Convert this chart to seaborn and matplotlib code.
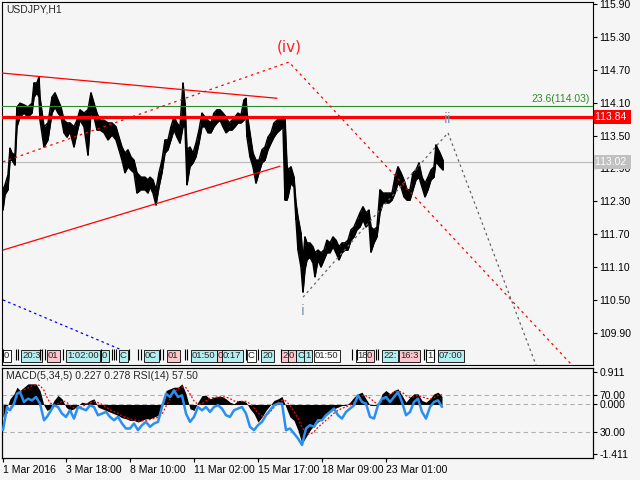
import numpy as np
import matplotlib
matplotlib.use('Agg')
import matplotlib.pyplot as plt
import matplotlib.transforms as mtransforms
import seaborn as sns

# USDJPY H1, bar index = hours since 1 Mar 2016 00:00 (weekends removed)
bar = [0, 2, 5, 7, 9, 12, 14, 17, 21, 25,
       29, 31, 34, 36, 37, 41, 45, 49, 52, 55,
       58, 61, 64, 67, 71, 74, 77, 81, 85, 88,
       91, 94, 97, 101, 105, 109, 113, 116, 119, 122,
       125, 128, 131, 134, 138, 142, 145, 147, 150, 153,
       156, 159, 162, 165, 168, 171, 174, 177, 180, 182,
       184, 187, 190, 193, 196, 199, 202, 205, 208, 211,
       214, 217, 220, 223, 226, 229, 232, 235, 238, 241,
       243, 244, 247, 250, 253, 256, 259, 262, 265, 268,
       271, 274, 277, 280, 282, 284, 285, 288, 291, 293,
       295, 298, 300, 302, 304, 307, 310, 312, 315, 318,
       321, 324, 327, 330, 333, 336, 339, 342, 345, 348,
       351, 354, 357, 360, 363, 366, 368, 371, 374, 377,
       380, 383, 386, 389, 392, 395, 398, 401, 404, 407,
       410, 413, 416, 419, 422, 425, 428, 431, 433, 434,
       437, 440]
high = [112.51, 112.60, 112.78, 113.27, 113.18, 113.14, 114.02, 114.09, 114.06, 114.02,
        114.09, 114.46, 114.46, 114.57, 114.20, 113.66, 113.73, 114.20, 114.28, 114.15,
        114.02, 113.78, 113.73, 113.73, 113.66, 113.78, 113.97, 113.91, 113.97, 114.28,
        114.09, 113.91, 113.78, 113.78, 113.73, 113.73, 113.66, 113.47, 113.29, 113.18,
        113.24, 113.11, 113.05, 112.82, 112.74, 112.74, 112.69, 112.74, 112.69, 112.51,
        112.82, 113.05, 113.42, 113.42, 113.66, 113.84, 113.73, 113.66, 114.46, 114.09,
        113.24, 113.29, 113.18, 113.36, 113.60, 113.91, 113.84, 113.78, 113.73, 113.91,
        113.97, 113.97, 113.91, 113.84, 113.73, 113.78, 113.84, 113.91, 113.87, 114.15,
        114.18, 113.91, 113.55, 113.18, 113.05, 113.05, 113.24, 113.29, 113.47, 113.55,
        113.73, 113.78, 113.84, 113.84, 113.82, 112.96, 112.87, 112.93, 112.74, 112.27,
        112.01, 111.72, 111.23, 111.65, 111.54, 111.54, 111.47, 111.36, 111.41, 111.36,
        111.41, 111.59, 111.54, 111.65, 111.59, 111.47, 111.54, 111.54, 111.59, 111.78,
        111.83, 111.96, 112.09, 112.20, 112.09, 112.14, 111.83, 111.78, 111.83, 112.51,
        112.45, 112.45, 112.45, 112.45, 112.74, 112.93, 112.82, 112.69, 112.51, 112.51,
        112.82, 112.87, 113.00, 112.74, 112.63, 112.74, 112.87, 112.93, 113.33, 113.29,
        113.18, 113.05]
low = [112.14, 112.42, 112.51, 113.05, 113.05, 112.96, 113.66, 113.84, 113.91, 113.84,
       113.91, 114.20, 114.28, 114.20, 113.78, 113.29, 113.42, 113.91, 114.02, 113.91,
       113.84, 113.55, 113.47, 113.57, 113.29, 113.55, 113.78, 113.66, 113.14, 113.91,
       113.84, 113.60, 113.60, 113.55, 113.42, 113.51, 113.42, 113.24, 113.05, 112.82,
       112.93, 112.87, 112.82, 112.45, 112.51, 112.51, 112.45, 112.56, 112.45, 112.23,
       112.56, 112.82, 113.18, 113.24, 113.42, 113.60, 113.47, 113.36, 113.66, 113.66,
       112.60, 112.93, 113.00, 113.11, 113.36, 113.66, 113.66, 113.55, 113.55, 113.66,
       113.73, 113.78, 113.66, 113.55, 113.60, 113.60, 113.66, 113.73, 113.73, 113.78,
       113.87, 113.47, 113.11, 112.93, 112.63, 112.82, 113.00, 113.05, 113.24, 113.36,
       113.47, 113.55, 113.60, 113.66, 112.32, 112.32, 112.38, 112.63, 112.56, 111.96,
       111.41, 111.10, 110.64, 111.05, 111.23, 111.28, 111.17, 110.92, 111.23, 111.10,
       111.23, 111.36, 111.36, 111.47, 111.36, 111.23, 111.36, 111.41, 111.41, 111.59,
       111.65, 111.78, 111.83, 111.96, 111.83, 111.90, 111.37, 111.54, 111.65, 112.09,
       112.27, 112.27, 112.27, 112.32, 112.45, 112.63, 112.56, 112.38, 112.32, 112.32,
       112.51, 112.69, 112.74, 112.56, 112.38, 112.51, 112.69, 112.74, 113.05, 113.00,
       112.93, 112.87]

# indicator window: MACD(5,34,5) + RSI(14)
ind_bar = [0, 4, 7, 11, 14, 17, 21, 25, 29, 33, 37, 41, 44, 47] + list(range(51, 440, 4))
macd = [-0.360, -0.076, 0.161, 0.303, 0.492, 0.398, 0.492, 0.587, 0.587, 0.587,
        0.398, -0.028, -0.170, -0.123, 0.114, 0.256, 0.161, -0.076, -0.170, -0.123,
        -0.028, 0.066, 0.038, 0.114, 0.161, -0.076, -0.123, -0.170, -0.218, -0.265,
        -0.313, -0.379, -0.407, -0.455, -0.455, -0.502, -0.455, -0.407, -0.407, -0.360,
        -0.313, -0.076, 0.398, 0.445, 0.492, 0.492, 0.587, 0.303, -0.123, -0.170,
        0.066, 0.256, 0.256, 0.161, 0.208, 0.227, 0.227, 0.161, 0.066, 0.019,
        0.114, 0.114, 0.066, -0.123, -0.265, -0.502, -0.360, -0.170, -0.028, 0.114,
        0.161, 0.227, -0.076, -0.360, -0.455, -0.739, -1.117, -0.928, -0.739, -0.597,
        -0.502, -0.407, -0.313, -0.218, -0.123, -0.076, -0.028, -0.028, 0.066, 0.208,
        0.303, 0.350, 0.161, -0.028, -0.028, -0.028, 0.303, 0.398, 0.303, 0.398,
        0.445, 0.256, 0.066, 0.208, 0.303, 0.303, 0.114, 0.066, 0.161, 0.303,
        0.350, 0.227]
signal = [-0.30, -0.25, -0.10, 0.05, 0.20, 0.35, 0.42, 0.47, 0.53, 0.56,
          0.54, 0.40, 0.20, 0.05, -0.02, 0.02, 0.10, 0.08, -0.02, -0.10,
          -0.10, -0.06, 0.00, 0.05, 0.09, 0.05, 0.00, -0.07, -0.15, -0.20,
          -0.25, -0.32, -0.37, -0.41, -0.44, -0.47, -0.47, -0.45, -0.43, -0.40,
          -0.37, -0.28, -0.05, 0.15, 0.35, 0.45, 0.50, 0.48, 0.30, 0.10,
          0.00, 0.02, 0.10, 0.18, 0.20, 0.22, 0.22, 0.21, 0.17, 0.10,
          0.08, 0.09, 0.09, 0.02, -0.10, -0.25, -0.33, -0.32, -0.22, -0.08,
          0.05, 0.12, 0.10, -0.03, -0.20, -0.40, -0.65, -0.82, -0.85, -0.78,
          -0.65, -0.55, -0.45, -0.35, -0.25, -0.17, -0.11, -0.07, -0.02, 0.06,
          0.15, 0.25, 0.25, 0.18, 0.08, 0.00, 0.08, 0.20, 0.30, 0.35,
          0.38, 0.35, 0.25, 0.20, 0.22, 0.26, 0.22, 0.18, 0.15, 0.20,
          0.26, 0.278]
rsi = [32.2, 57.4, 53.8, 61.0, 71.8, 73.6, 62.8, 66.4, 64.6, 68.2,
       61.0, 43.0, 46.6, 52.0, 59.2, 57.4, 50.2, 46.6, 53.8, 44.8,
       57.4, 55.6, 53.8, 59.2, 57.4, 48.4, 50.2, 52.0, 46.6, 43.0,
       46.6, 39.4, 34.0, 34.0, 39.4, 32.2, 37.6, 41.2, 35.8, 39.4,
       41.2, 57.4, 71.8, 68.2, 75.4, 68.2, 70.0, 50.2, 41.2, 46.6,
       57.4, 53.8, 57.4, 52.0, 57.4, 59.2, 55.6, 48.4, 46.6, 53.8,
       55.6, 57.4, 50.2, 35.8, 32.2, 37.6, 41.2, 48.4, 53.8, 59.2,
       61.0, 61.0, 32.2, 34.0, 28.6, 23.2, 16.0, 34.0, 37.6, 35.8,
       43.0, 43.0, 48.4, 52.0, 55.6, 48.4, 44.8, 52.0, 55.6, 59.2,
       70.0, 62.8, 61.0, 46.6, 44.8, 59.2, 66.4, 68.2, 62.8, 68.2,
       73.6, 62.8, 48.4, 52.0, 62.8, 66.4, 52.0, 44.8, 57.4, 62.8,
       64.6, 57.5]

price_ticks = [115.90, 115.30, 114.70, 114.10, 113.50, 112.90, 112.30, 111.70, 111.10, 110.50, 109.90]
date_bars = [0, 63, 127, 191, 255, 319, 383]
date_labels = ['1 Mar 2016', '3 Mar 18:00', '8 Mar 10:00', '11 Mar 02:00',
               '15 Mar 17:00', '18 Mar 09:00', '23 Mar 01:00']

resistance = 113.84
fib_236 = 114.03
bid = 113.02

# drawn objects (bars, prices)
tri_upper_bar, tri_upper_px = [-1, 274], [114.64, 114.18]
tri_lower_bar, tri_lower_px = [0, 277], [111.41, 112.94]
wave4_bar, wave4_px = [0, 286, 569], [113.02, 114.84, 109.31]
wave2_bar, wave2_px = [300, 445, 533], [110.55, 113.55, 109.31]
blue_bar, blue_px = [0, 117], [110.50, 109.60]

# little time-label objects along the bottom of the price window
tag_bars = [1, 19, 45, 64, 99, 117, 142, 165, 189, 215, 220, 245, 259, 279, 286,
            294, 302, 312, 354, 364, 380, 397, 424, 436]
tag_text = ['0', '20:3', '01', '1:02:00', '0', 'C', '0C', '01', '01:50', '0', '0:17', 'C', '20',
            '2', '0', 'C', '1', '01:50', '18', '0', '22:', '16:3', '1', '07:00']
tag_kind = ['w', 'c', 'p', 'c', 'c', 'c', 'c', 'p', 'c', 'p', 'c', 'w', 'c',
            'p', 'p', 'c', 'c', 'w', 'w', 'p', 'c', 'p', 'w', 'c']
sep_bars = [0, 13, 15, 37, 39, 42, 60, 98, 109, 111, 113, 126, 135, 138, 157, 160,
            182, 184, 243, 255, 278, 349, 354, 373, 375, 421, 423, 431]

sns.set_theme(style="white")
plt.rcParams['font.family'] = ['Liberation Sans', 'DejaVu Sans']
BG = '#f5f5f5'
FS = 7.5

fig = plt.figure(figsize=(6.4, 4.8), dpi=100, facecolor=BG)
ax = fig.add_axes([2 / 640, 1 - 365 / 480, 591 / 640, 363 / 480], facecolor=BG)
axi = fig.add_axes([2 / 640, 1 - 458 / 480, 591 / 640, 90.5 / 480], facecolor=BG)
axr = axi.twinx()

# ---- price window ----
ax.axhline(bid, color='#bdbdbd', lw=0.9, zorder=1)
ax.fill_between(bar, low, high, color='black', lw=0, zorder=2)
ax.vlines(bar, low, high, color='black', lw=1.3, zorder=2)
sns.lineplot(x=bar, y=high, ax=ax, color='black', lw=1.1, estimator=None, zorder=2)
sns.lineplot(x=bar, y=low, ax=ax, color='black', lw=1.1, estimator=None, zorder=2)

ax.axhline(fib_236, color='#2e8b2e', lw=0.8, zorder=3)
ax.axhline(resistance, color='#ff0000', lw=2.3, zorder=3)
ax.plot(tri_upper_bar, tri_upper_px, color='#ff0000', lw=0.9, zorder=3)
ax.plot(tri_lower_bar, tri_lower_px, color='#ff0000', lw=0.9, zorder=3)
ax.plot(wave4_bar, wave4_px, color='#ff0000', lw=0.9, ls=(0, (2, 3)), zorder=3)
ax.plot(wave2_bar, wave2_px, color='#666666', lw=0.9, ls=(0, (2, 2.5)), zorder=3)
ax.plot(blue_bar, blue_px, color='#0000ff', lw=0.9, ls=(0, (2, 2.5)), zorder=3)

ax.text(wave4_bar[1], 114.98, '(iv)', color='#ff2020', fontsize=11, ha='center', va='bottom',
        family='DejaVu Sans')
ax.text(wave2_bar[1], 113.68, 'ii', color='#7493ad', fontsize=10, ha='center', va='bottom',
        family='DejaVu Sans')
ax.text(wave2_bar[0], 110.43, 'i', color='#7493ad', fontsize=10, ha='center', va='top',
        family='DejaVu Sans')
ax.text(587, fib_236 + 0.05, '23.6(114.03)', color='#2e8b2e', fontsize=FS, ha='right', va='bottom')
ax.text(0.0068, 0.978, 'USDJPY,H1', transform=ax.transAxes, fontsize=FS, va='center')

tag_colors = {'w': 'white', 'c': '#b4eef0', 'p': '#ffc4cc'}
for b, s, k in zip(tag_bars, tag_text, tag_kind):
    ax.text(b, 109.48, s, fontsize=6.8, ha='left', va='center', zorder=5,
            bbox=dict(facecolor=tag_colors[k], edgecolor='black', lw=0.6, pad=1.0))
ax.vlines(sep_bars, 109.40, 109.60, color='black', lw=0.8, zorder=5)

ax.set_xlim(-1, 590)
ax.set_ylim(109.312, 115.937)
ax.set_xticks([])
ax.yaxis.tick_right()
ax.set_yticks(price_ticks)
ax.set_yticklabels([f'{p:.2f}' for p in price_ticks])
ax.tick_params(axis='y', right=True, left=False, direction='out', length=3, width=0.8,
               labelsize=FS, pad=1.5, colors='black')
ax.set_xlabel('')
ax.set_ylabel('')

trans = mtransforms.blended_transform_factory(ax.transAxes, ax.transData)
ax.text(1.004, resistance, '113.84 ', transform=trans, color='white', fontsize=FS,
        ha='left', va='center', bbox=dict(facecolor='#ff0000', edgecolor='none', pad=1.3))
ax.text(1.004, bid, '113.02 ', transform=trans, color='white', fontsize=FS,
        ha='left', va='center', bbox=dict(facecolor='#c0c0c0', edgecolor='none', pad=1.3))

# ---- indicator window ----
m_lo, m_hi = -1.525, 1.053
r_lo, r_hi = 1.9, 100.3


def rsi_to_macd(v):
    return m_lo + (v - r_lo) / (r_hi - r_lo) * (m_hi - m_lo)


for lvl in (rsi_to_macd(70), 0.0, rsi_to_macd(30)):
    axi.axhline(lvl, color='#b0b0b0', lw=0.8, ls=(0, (4, 3)), zorder=1)
axi.fill_between(ind_bar, 0, macd, color='black', lw=0, zorder=2)
axi.plot(ind_bar, signal, color='#ff0000', lw=0.9, ls=(0, (1.5, 1.5)), zorder=3)
axi.set_xlim(-1, 590)
axi.set_ylim(m_lo, m_hi)
axi.set_yticks([0.911, 0.0, -1.411])
axi.set_yticklabels(['0.911', '0.000', '-1.411'])
axi.yaxis.tick_right()
axi.set_xticks(date_bars)
axi.set_xticklabels(date_labels, ha='left')
axi.tick_params(axis='y', right=True, left=False, labelleft=False, labelright=True,
                direction='out', length=3, width=0.8, labelsize=FS, pad=1.5, colors='black')
axi.tick_params(axis='x', bottom=True, direction='out', length=3, width=0.8,
                labelsize=FS, pad=2, colors='black')

sns.lineplot(x=ind_bar, y=rsi, ax=axr, color='#2a8ff0', lw=1.8, estimator=None, zorder=4)
axr.set_xlim(-1, 590)
axr.set_ylim(r_lo, r_hi)
axr.set_yticks([70, 30])
axr.set_yticklabels(['70.00', '30.00'])
axr.tick_params(axis='y', right=True, left=False, direction='out', length=3, width=0.8,
                labelsize=FS, pad=1.5, colors='black')
axr.set_ylabel('')
axi.text(0.0068, 0.906, 'MACD(5,34,5) 0.227 0.278 RSI(14) 57.50', transform=axi.transAxes,
         fontsize=FS, va='center')

for a in (ax, axi, axr):
    for sp in a.spines.values():
        sp.set_color('black')
        sp.set_linewidth(0.8)

fig.savefig('out.png', dpi=100, facecolor=BG)
plt.close(fig)
